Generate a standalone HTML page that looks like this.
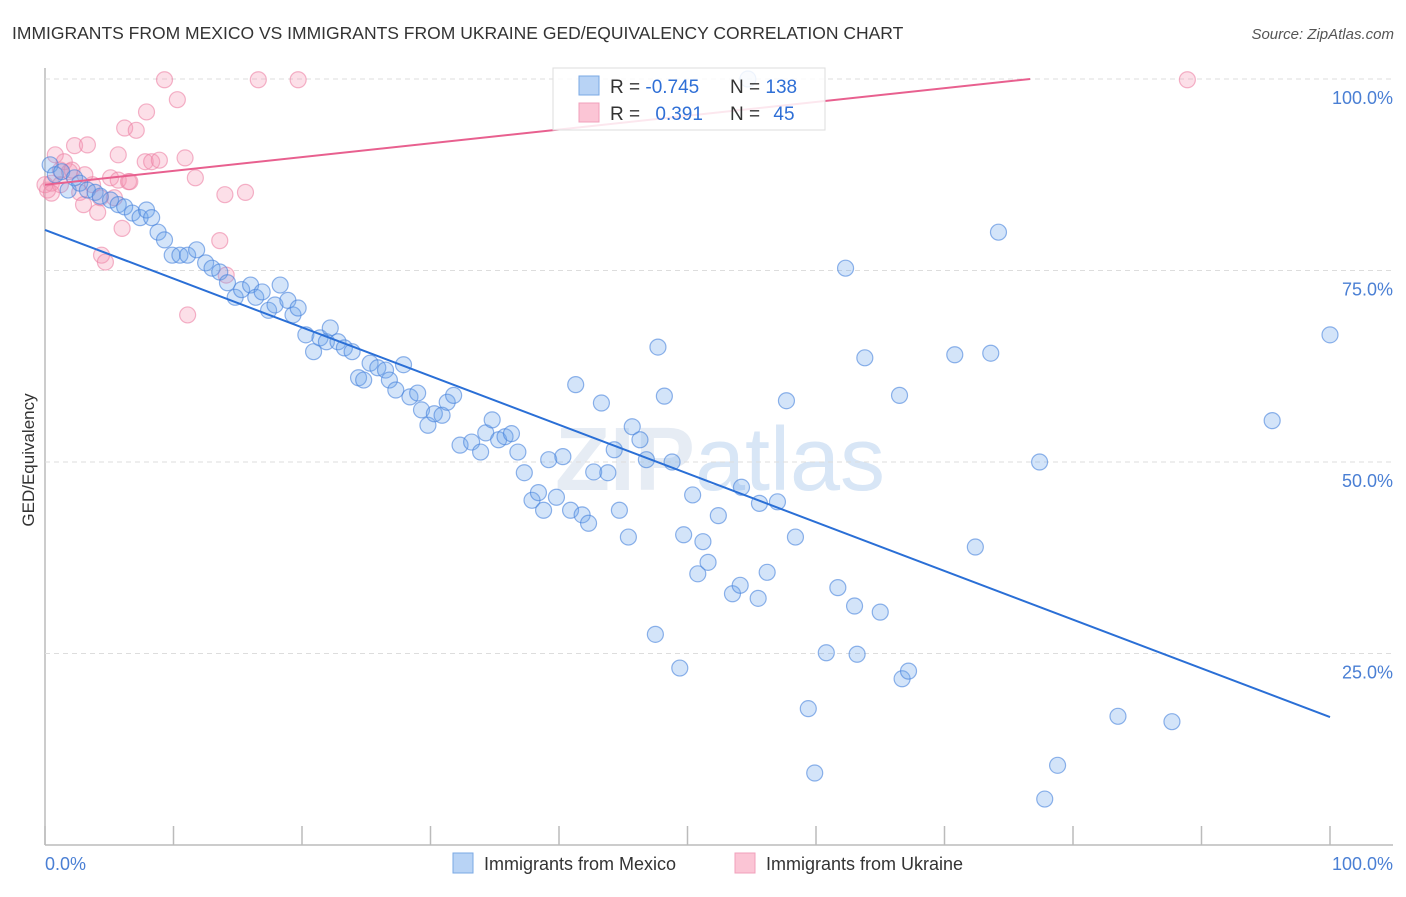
<!DOCTYPE html>
<html><head><meta charset="utf-8"><style>
body{margin:0;background:#fff;font-family:"Liberation Sans",sans-serif}
</style></head><body>
<svg id="c" width="1406" height="892" xmlns="http://www.w3.org/2000/svg" style="font-family:'Liberation Sans',sans-serif">
<text x="12" y="39" font-size="17.5" fill="#333">IMMIGRANTS FROM MEXICO VS IMMIGRANTS FROM UKRAINE GED/EQUIVALENCY CORRELATION CHART</text>
<text x="1394" y="39" font-size="15" fill="#555" font-style="italic" text-anchor="end">Source: ZipAtlas.com</text>
<text x="720" y="490" font-size="90" fill="#e6ecf4" text-anchor="middle" font-weight="bold">ZIP<tspan font-weight="normal" fill="#d8e6f6">atlas</tspan></text>
<text x="34" y="460" font-size="17" fill="#333" text-anchor="middle" transform="rotate(-90 34 460)">GED/Equivalency</text>
<g id="grid"></g><g id="pts"></g><g id="lines"></g>
<g>
<rect x="553" y="68" width="272" height="62" fill="#fff" fill-opacity="0.85" stroke="#ddd"/>
<rect x="579" y="76" width="20" height="19" fill="#b8d3f5" stroke="#7aa8e4"/>
<rect x="579" y="103" width="20" height="19" fill="#fbc5d5" stroke="#f0a0bb"/>
<text x="610" y="93" font-size="19" fill="#333">R = <tspan fill="#2f6fd6">-0.745</tspan></text>
<text x="730" y="93" font-size="19" fill="#333">N = <tspan fill="#2f6fd6">138</tspan></text>
<text x="610" y="120" font-size="19" fill="#333">R = <tspan fill="#2f6fd6" dx="10">0.391</tspan></text>
<text x="730" y="120" font-size="19" fill="#333">N = <tspan fill="#2f6fd6" dx="8">45</tspan></text>
</g>
<text x="45" y="870" font-size="18" fill="#4a7fd4">0.0%</text>
<text x="1393" y="870" font-size="18" fill="#4a7fd4" text-anchor="end">100.0%</text>
<g>
<rect x="453" y="853" width="20" height="20" fill="#b8d3f5" stroke="#7aa8e4"/>
<text x="484" y="870" font-size="18" fill="#333">Immigrants from Mexico</text>
<rect x="735" y="853" width="20" height="20" fill="#fbc5d5" stroke="#f0a0bb"/>
<text x="766" y="870" font-size="18" fill="#333">Immigrants from Ukraine</text>
</g>
</svg>
<script>
const yTicks=[25,50,75,100];
const yTickLabels=["25.0%","50.0%","75.0%","100.0%"];
const xTicks=[0,10,20,30,40,50,60,70,80,90,100];
const mexX=[0.4,0.8,1.8,1.3,2.3,2.7,3.3,3.9,4.3,5.1,5.7,6.2,6.8,7.4,7.9,8.3,8.8,9.3,9.9,10.5,11.1,11.8,12.5,13.0,13.6,14.2,14.8,15.3,16.0,16.4,16.9,17.4,17.9,18.3,18.9,19.3,19.7,20.3,20.9,21.4,21.9,22.2,22.8,23.3,23.9,24.4,24.8,25.3,25.9,26.5,26.8,27.3,27.9,28.4,29.0,29.3,29.8,30.3,30.9,31.3,31.8,32.3,33.2,33.9,34.3,34.8,35.3,35.8,36.3,36.8,37.3,37.9,38.4,38.8,39.2,39.8,40.3,40.9,41.3,41.8,42.3,42.7,43.3,43.8,44.3,44.7,45.4,45.7,46.3,46.8,47.5,47.7,48.2,48.8,49.4,49.7,50.4,50.8,51.2,51.6,52.4,53.5,54.1,54.2,55.5,55.6,56.2,57.0,57.7,58.4,59.4,59.9,60.8,61.7,62.3,63.0,63.2,63.8,65.0,66.5,66.7,67.2,70.8,72.4,73.6,74.2,77.4,77.8,78.8,83.5,87.7,95.5,100,54.7];
const mexY=[88.8,87.5,85.5,87.9,87.1,86.4,85.5,85.2,84.7,84.2,83.6,83.3,82.5,81.9,82.9,81.9,80.0,79.0,77.0,77.0,77.0,77.7,76.0,75.3,74.8,73.4,71.5,72.5,73.1,71.5,72.2,69.8,70.5,73.1,71.1,69.2,70.1,66.6,64.4,66.2,65.7,67.5,65.7,64.9,64.4,61.0,60.7,62.9,62.3,62.0,60.7,59.4,62.7,58.5,59.0,56.8,54.8,56.3,56.1,57.8,58.7,52.2,52.6,51.3,53.8,55.5,52.9,53.3,53.7,51.3,48.6,45.0,46.0,43.7,50.3,45.4,50.7,43.7,60.1,43.1,42.0,48.7,57.7,48.6,51.6,43.7,40.2,54.6,52.9,50.3,27.5,65.0,58.6,50.0,23.1,40.5,45.7,35.4,39.6,36.9,43.0,32.8,33.9,46.7,32.2,44.6,35.6,44.8,58.0,40.2,17.8,9.4,25.1,33.6,75.3,31.2,24.9,63.6,30.4,58.7,21.7,22.7,64.0,38.9,64.2,80.0,50.0,6.0,10.4,16.8,16.1,55.4,66.6,100];
const ukrX=[0.2,0.5,0.8,1.2,1.5,1.9,2.3,2.7,3.0,3.3,3.7,4.1,4.4,4.7,5.1,5.4,5.7,6.0,6.2,6.5,6.6,7.1,7.8,7.9,8.3,8.9,9.3,10.3,10.9,11.1,11.7,13.6,14.0,14.1,15.6,16.6,19.7,88.9,0.0,1.2,0.5,5.7,2.1,4.3,3.1];
const ukrY=[85.5,86.4,90.1,88.1,89.2,87.9,91.3,85.2,83.6,91.4,86.2,82.6,77.0,76.1,87.1,84.5,86.8,80.5,93.6,86.6,86.6,93.3,89.2,95.7,89.2,89.4,99.9,97.3,89.7,69.2,87.1,78.9,84.9,74.4,85.2,99.9,99.9,99.9,86.2,86.2,85.1,90.1,88.1,84.5,87.5];
const mexLine=[80.3,16.7];
const ukrLine=[86.2,104.2];
const NS="http://www.w3.org/2000/svg";
const X0=45,X1=1330,Y0=845,Y100=79;
const sx=v=>X0+(X1-X0)*v/100, sy=v=>Y0-(Y0-Y100)*v/100;
function mk(t,a,p){const e=document.createElementNS(NS,t);for(const k in a)e.setAttribute(k,a[k]);p.appendChild(e);return e;}
const grid=document.getElementById('grid');
const ax=mk('line',{x1:X0,y1:68,x2:X0,y2:Y0,stroke:'#bbb','stroke-width':1.5},grid);

const bx=mk('line',{x1:X0,y1:Y0,x2:1393,y2:Y0,stroke:'#bbb','stroke-width':1.5},grid);

yTicks.forEach((t,i)=>{
  const g=mk('line',{x1:X0,y1:sy(t),x2:1393,y2:sy(t),stroke:'#ddd','stroke-dasharray':'5,4'},grid);
  
  const l=mk('text',{x:1393,y:sy(t)+25,'font-size':18,fill:'#4a7fd4','text-anchor':'end'},grid);
  l.textContent=yTickLabels[i];
  
});
xTicks.forEach(t=>{
  const k=mk('line',{x1:sx(t),y1:Y0,x2:sx(t),y2:Y0-19,stroke:'#bbb','stroke-width':1.5},grid);
  
});
const pts=document.getElementById('pts');
ukrX.forEach((x,i)=>{
  const c=mk('circle',{cx:sx(x),cy:sy(ukrY[i]),r:8,fill:'rgba(244,150,180,0.3)',stroke:'rgba(236,130,165,0.6)','stroke-width':1.2},pts);
  
});
mexX.forEach((x,i)=>{
  const c=mk('circle',{cx:sx(x),cy:sy(mexY[i]),r:8,fill:'rgba(110,165,235,0.3)',stroke:'rgba(70,130,220,0.6)','stroke-width':1.2},pts);
  
});
const lines=document.getElementById('lines');
const ml=mk('line',{x1:sx(0),y1:sy(mexLine[0]),x2:sx(100),y2:sy(mexLine[1]),stroke:'#2a6fd6','stroke-width':2},lines);

const tEnd=(100-ukrLine[0])/(ukrLine[1]-ukrLine[0])*100;
const ul=mk('line',{x1:sx(0),y1:sy(ukrLine[0]),x2:sx(tEnd),y2:sy(100),stroke:'#e8608f','stroke-width':2},lines);

</script>
</body></html>
